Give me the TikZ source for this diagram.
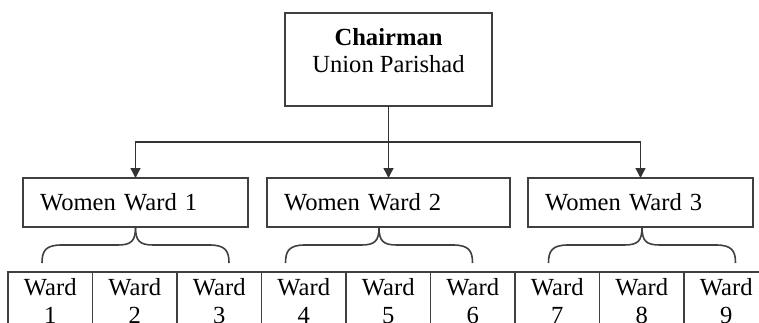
\documentclass[tikz,border=0pt]{standalone}
\usepackage{fontspec}
\setmainfont{Liberation Serif}
\usepackage{tikz}
\usetikzlibrary{arrows.meta, positioning}

\begin{document}
\begin{tikzpicture}[
    x=0.5pt, y=-0.5pt, font=\fontsize{12.3}{14}\selectfont,
    box/.style={draw=black!75, line width=0.7pt, inner sep=0pt, outer sep=0pt},
    head/.style={box, minimum width=103.5pt, minimum height=46.5pt},
    wward/.style={box, minimum height=24.5pt, inner xsep=8.5pt, align=left},
    wardcell/.style={box, minimum width=42.25pt, minimum height=29pt, align=center, anchor=north},
    link/.style={-{Triangle[width=5pt,length=5pt]}, line width=0.7pt, draw=black!80},
    brace/.style={line width=0.8pt, draw=black!75}
]
    \useasboundingbox (0,0) rectangle (759,322);
    \clip (0,0) rectangle (759,322);

    % chairman
    \node[head] (chair) at (388.5, 59.5) {};
    \node[anchor=base, inner sep=0pt] (chairname) at (388.5, 45) {\textbf{Chairman}};
    \node[anchor=base, inner sep=0pt] (chairorg) at (388.5, 72) {Union Parishad};

    % women wards
    \node[wward, text width=95.5pt]  (ww1) at (135.5, 202.5) {Women Ward 1};
    \node[wward, text width=104.5pt] (ww2) at (388.5, 202.5) {Women Ward 2};
    \node[wward, text width=95.5pt]  (ww3) at (640.5, 202.5) {Women Ward 3};

    \coordinate (split) at (388.5, 142);
    \draw[line width=0.7pt, draw=black!80] (chair.south) -- (split);
    \draw[link] (split) -| (ww1.north);
    \draw[link] (split) -- (ww2.north);
    \draw[link] (split) -| (ww3.north);

    % wards
    \foreach \i in {1,...,9}
        \node[wardcell] (w\i) at ({8+84.5*(\i-0.5)}, 272) {Ward\\\i};

    % braces
    \foreach \b/\dx in {ww1/0, ww2/-9.5, ww3/1.5} {
        \draw[brace] ([xshift=\dx*0.5pt]\b.south)
            .. controls +(0,14) and +(14,0) .. ++(-18,18) -- ++(-56,0)
            .. controls +(-16,0) and +(0,-12) .. ++(-19.5,18);
        \draw[brace] ([xshift=\dx*0.5pt]\b.south)
            .. controls +(0,14) and +(-14,0) .. ++(18,18) -- ++(56,0)
            .. controls +(16,0) and +(0,-12) .. ++(19.5,18);
    }
\end{tikzpicture}
\end{document}
